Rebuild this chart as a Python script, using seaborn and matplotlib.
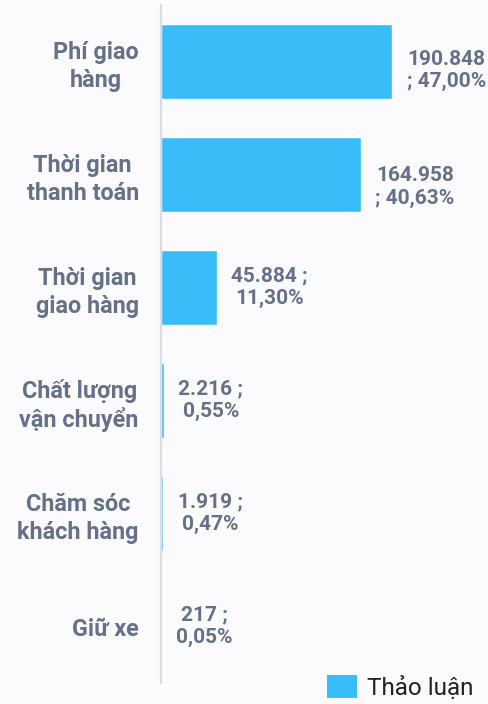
import matplotlib
matplotlib.use("Agg")
import matplotlib.pyplot as plt
from matplotlib.patches import Patch
import pandas as pd
import seaborn as sns

# Data
categories = ["Phí giao\nhàng", "Thời gian\nthanh toán", "Thời gian\ngiao hàng",
              "Chất lượng\nvận chuyển", "Chăm sóc\nkhách hàng", "Giữ xe"]
counts = [190848, 164958, 45884, 2216, 1919, 217]
value_labels = ["190.848\n; 47,00%", "164.958\n; 40,63%", "45.884 ;\n11,30%",
                "2.216 ;\n0,55%", "1.919 ;\n0,47%", "217 ;\n0,05%"]
series_name = "Thảo luận"

bar_color = "#38bdf8"
text_color = "#667089"

sns.set_theme(style="white")
plt.rcParams["font.family"] = ["Roboto", "DejaVu Sans"]

df = pd.DataFrame({"category": categories, "count": counts})

fig = plt.figure(figsize=(4.89, 7.04), dpi=100, facecolor="#fbfbfd")
ax = fig.add_axes([161 / 489, 21 / 704, 1 - 161 / 489, 678 / 704])
ax.set_facecolor("none")

sns.barplot(data=df, x="count", y="category", orient="h", color=bar_color,
            width=0.67, saturation=1, ax=ax)

ax.set_xlim(0, 271000)
ax.set_ylim(5.5, -0.5)
ax.set_xlabel("")
ax.set_ylabel("")
ax.set_xticks([])
for side in ["top", "right", "bottom"]:
    ax.spines[side].set_visible(False)
ax.spines["left"].set_color("#dcdde3")
ax.spines["left"].set_linewidth(1.5)

ax.tick_params(axis="y", length=0, pad=16)
for t in ax.get_yticklabels():
    t.set_fontsize(16.8)
    t.set_fontweight("bold")
    t.set_color(text_color)
    t.set_multialignment("center")
    t.set_linespacing(1.25)

# value labels to the right of each bar (top two sit a bit lower)
y_shift = [0.08, 0.11, 0, 0, 0, 0]
for i, (c, lab) in enumerate(zip(counts, value_labels)):
    ax.annotate(lab, xy=(c, i + y_shift[i]), xytext=(10.5, 0), textcoords="offset points",
                ha="left", va="center", multialignment="center",
                fontsize=15, fontweight="bold", color=text_color, linespacing=1.25)

handle = Patch(facecolor=bar_color, edgecolor="none")
fig.legend([handle], [series_name], loc="lower right", bbox_to_anchor=(1.014, -0.025),
           frameon=False, fontsize=17.5, handlelength=1.2, handleheight=1.1,
           handletextpad=0.45, labelcolor="#222222")

fig.savefig("out.png", dpi=100, facecolor=fig.get_facecolor())
